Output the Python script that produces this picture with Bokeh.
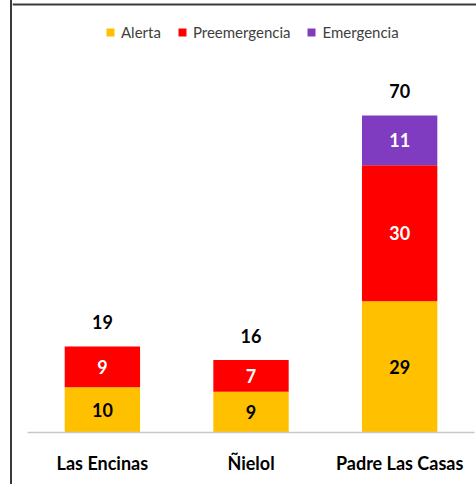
from bokeh.plotting import figure
from bokeh.models import Range1d, FixedTicker, ColumnDataSource, Legend, LegendItem, Span
from bokeh.core.properties import value
from bokeh.embed import file_html
from bokeh.resources import INLINE

categories = ["Las Encinas", "Ñielol", "Padre Las Casas"]
series_names = ["Alerta", "Preemergencia", "Emergencia"]
alerta = [10, 9, 29]
preemergencia = [9, 7, 30]
emergencia = [0, 0, 11]
colors = ["#FFC000", "#FF0000", "#803CC0"]
label_colors = ["black", "white", "white"]

xs = list(range(len(categories)))
totals = [a + b + c for a, b, c in zip(alerta, preemergencia, emergencia)]

src = ColumnDataSource(dict(x=xs, Alerta=alerta, Preemergencia=preemergencia,
                            Emergencia=emergencia, total=totals))

Y_END = 95.39
p = figure(width=468, height=484, output_backend="svg", toolbar_location=None,
           x_range=Range1d(-0.6047, 2.5574), y_range=Range1d(0, Y_END),
           y_axis_location=None, min_border_left=0, min_border_right=0,
           min_border_top=0, min_border_bottom=52)
p.styles = {"margin-left": "10px", "border-left": "2px solid #3a3a3a",
            "box-sizing": "content-box", "overflow": "visible"}
try:
    from bokeh.models import GlobalInlineStyleSheet
    p.stylesheets = [GlobalInlineStyleSheet(css="html, body { overflow: hidden; }")]
except Exception:
    pass
p.outline_line_color = None
p.xgrid.visible = False
p.ygrid.visible = False
p.background_fill_color = "white"
p.border_fill_color = "white"

# chart-area top border
p.add_layout(Span(location=94.5, dimension="width", line_color="#3a3a3a", line_width=2))

rs = p.vbar_stack(series_names, x="x", width=0.507, color=colors, line_color=None, source=src)

# segment labels
lx, ly, lt, lc = [], [], [], []
for i in xs:
    base = 0
    for vals, col in zip([alerta, preemergencia, emergencia], label_colors):
        v = vals[i]
        if v > 0:
            lx.append(i); ly.append(base + v / 2); lt.append(str(v)); lc.append(col)
        base += v
p.text(x=lx, y=ly, text=lt, text_color=lc, text_align="center", text_baseline="middle",
       text_font=value("Lato"), text_font_style="bold", text_font_size="18px")

# totals
p.text(x="x", y="total", text="total", source=src, text_align="center",
       text_baseline="bottom", y_offset=-17, text_color="black",
       text_font=value("Lato"), text_font_style="bold", text_font_size="18px")

ax = p.xaxis[0]
ax.ticker = FixedTicker(ticks=xs)
ax.major_label_overrides = {i: c for i, c in enumerate(categories)}
ax.bounds = (-0.5034, 2.5034)
ax.axis_line_color = "#C8C8C8"
ax.axis_line_width = 1.5
ax.major_tick_line_color = None
ax.minor_tick_line_color = None
ax.major_label_text_font = "Lato"
ax.major_label_text_font_style = "bold"
ax.major_label_text_font_size = "18px"
ax.major_label_text_color = "black"
ax.major_label_standoff = 13

legend = Legend(items=[LegendItem(label=n, renderers=[r]) for n, r in zip(series_names, rs)],
                location=(93, 391), orientation="horizontal",
                glyph_width=10, glyph_height=10, label_standoff=6, spacing=16,
                padding=0, border_line_color=None, background_fill_alpha=0,
                label_text_font="Lato", label_text_font_size="15px",
                label_text_color="#404040")
p.add_layout(legend, "center")

open("out.html", "w").write(file_html(p, INLINE))
